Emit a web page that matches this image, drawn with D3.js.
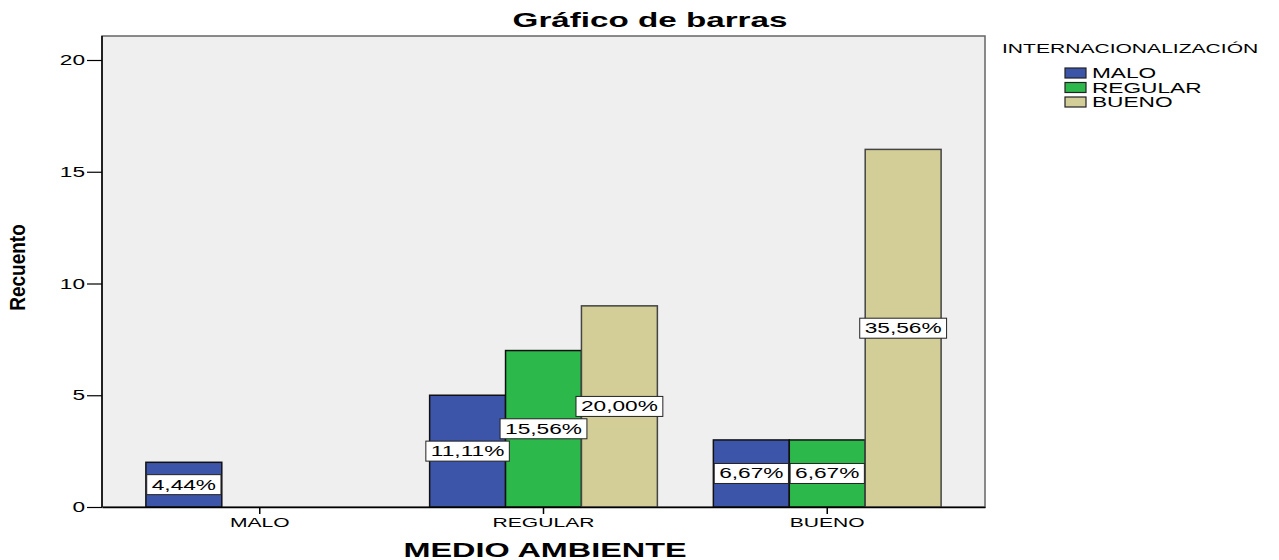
<!DOCTYPE html>
<html>
<head>
<meta charset="utf-8">
<script src="https://cdn.jsdelivr.net/npm/d3@7"></script>
<style>
  body { margin: 0; background: #fff; }
  text { font-family: "Liberation Sans", Arial, sans-serif; }
</style>
</head>
<body>
<svg id="chart" width="1279" height="560"></svg>
<script>
// data
const categories = ['MALO', 'REGULAR', 'BUENO'];           // MEDIO AMBIENTE
const series = ['MALO', 'REGULAR', 'BUENO'];               // INTERNACIONALIZACIÓN
const malo = [2, 5, 3];
const regular = [0, 7, 3];
const bueno = [0, 9, 16];
const yTicks = [0, 5, 10, 15, 20];

const colors = ['#3d55a9', '#2db84b', '#d3ce97'];
const strokes = ['#111', '#111', '#444'];
const SX = 1.62; // text in the picture is stretched sideways

const svg = d3.select('#chart');
const frame = {left: 102, right: 985, top: 36, bottom: 507};

const values = [malo, regular, bueno];
const total = d3.sum(values.flat());
const rows = [];
categories.forEach((c, ci) => {
    series.forEach((s, si) => {
        rows.push({cat: c, ser: s, si: si, v: values[si][ci]});
    });
});

const fmt = d3.format('.2f');
const pct = v => fmt(v / total * 100).replace('.', ',') + '%';

// stretched text helper
function stext(g, x, y, str, size, anchor, weight) {
    return g.append('text')
        .attr('transform', `translate(${x},${y}) scale(${SX},1)`)
        .attr('text-anchor', anchor || 'start')
        .style('font-size', size + 'px')
        .style('font-weight', weight || 'normal')
        .attr('fill', '#000')
        .text(str);
}

const yScale = d3.scaleLinear()
    .domain([0, 20])
    .range([frame.bottom, 60]);

const xScale = d3.scaleBand()
    .domain(categories)
    .range([frame.left, frame.right])
    .paddingInner(0)
    .paddingOuter(0.056);

const xSub = d3.scaleBand()
    .domain(series)
    .range([28, xScale.bandwidth() - 28]);

// plot background
svg.append('rect')
    .attr('x', frame.left)
    .attr('y', frame.top)
    .attr('width', frame.right - frame.left)
    .attr('height', frame.bottom - frame.top)
    .attr('fill', '#efefef')
    .attr('stroke', '#666')
    .attr('stroke-width', 1.5);

// bars
const barGroups = svg.append('g')
    .selectAll('rect')
    .data(rows.filter(d => d.v > 0))
    .enter();

barGroups.append('rect')
    .attr('x', d => xScale(d.cat) + xSub(d.ser))
    .attr('y', d => yScale(d.v))
    .attr('width', xSub.bandwidth())
    .attr('height', d => yScale(0) - yScale(d.v))
    .attr('fill', d => colors[d.si])
    .attr('stroke', d => strokes[d.si])
    .attr('stroke-width', 1.5);

// percentage labels
const labels = svg.append('g');
rows.filter(d => d.v > 0).forEach(d => {
    const cx = xScale(d.cat) + xSub(d.ser) + xSub.bandwidth() / 2;
    const cy = (yScale(d.v) + yScale(0)) / 2;
    const lg = labels.append('g');
    const box = lg.append('rect');
    const t = stext(lg, cx, cy + 5, pct(d.v), 14, 'middle');
    const w = t.node().getComputedTextLength() * SX + 10;
    box.attr('x', cx - w / 2)
        .attr('y', cy - 10)
        .attr('width', w)
        .attr('height', 20)
        .attr('fill', '#fff')
        .attr('stroke', '#222')
        .attr('stroke-width', 1);
});

// y axis
const yAxis = svg.append('g')
    .attr('transform', `translate(${frame.left},0)`)
    .call(d3.axisLeft(yScale).tickValues(yTicks).tickSize(15).tickPadding(3));
yAxis.select('.domain').attr('stroke', '#000').attr('stroke-width', 1.5)
    .attr('d', `M0,${frame.top}V${frame.bottom}`);
yAxis.selectAll('.tick line').attr('stroke', '#000').attr('stroke-width', 1.2);
yAxis.selectAll('.tick text').remove();
yTicks.forEach(v => stext(svg, frame.left - 17, yScale(v) + 5, v, 14, 'end'));

// x axis
const xAxis = svg.append('g')
    .attr('transform', `translate(0,${frame.bottom})`)
    .call(d3.axisBottom(xScale).tickSize(7).tickSizeOuter(0));
xAxis.select('.domain').attr('stroke', '#000').attr('stroke-width', 1.5);
xAxis.selectAll('.tick line').attr('stroke', '#000').attr('stroke-width', 1.5);
xAxis.selectAll('.tick text').remove();
categories.forEach(c => stext(svg, xScale(c) + xScale.bandwidth() / 2, 527, c, 13, 'middle'));

// titles
stext(svg, 650, 27, 'Gráfico de barras', 20.5, 'middle', 'bold');
stext(svg, 545, 557, 'MEDIO AMBIENTE', 20, 'middle', 'bold');
svg.append('text')
    .attr('transform', `translate(25,${(frame.top + frame.bottom) / 2 - 4}) scale(1.15,1) rotate(-90)`)
    .attr('text-anchor', 'middle')
    .style('font-size', '19px')
    .style('font-weight', 'bold')
    .text('Recuento');

// legend
const legend = svg.append('g');
stext(legend, 1002, 53, 'INTERNACIONALIZACIÓN', 13, 'start');
series.forEach((s, i) => {
    legend.append('rect')
        .attr('x', 1065)
        .attr('y', 68 + i * 14.5)
        .attr('width', 21)
        .attr('height', 10)
        .attr('fill', colors[i])
        .attr('stroke', '#222')
        .attr('stroke-width', 1.2);
    stext(legend, 1092, 78 + i * 14.5, s, 14, 'start');
});
</script>
</body>
</html>
